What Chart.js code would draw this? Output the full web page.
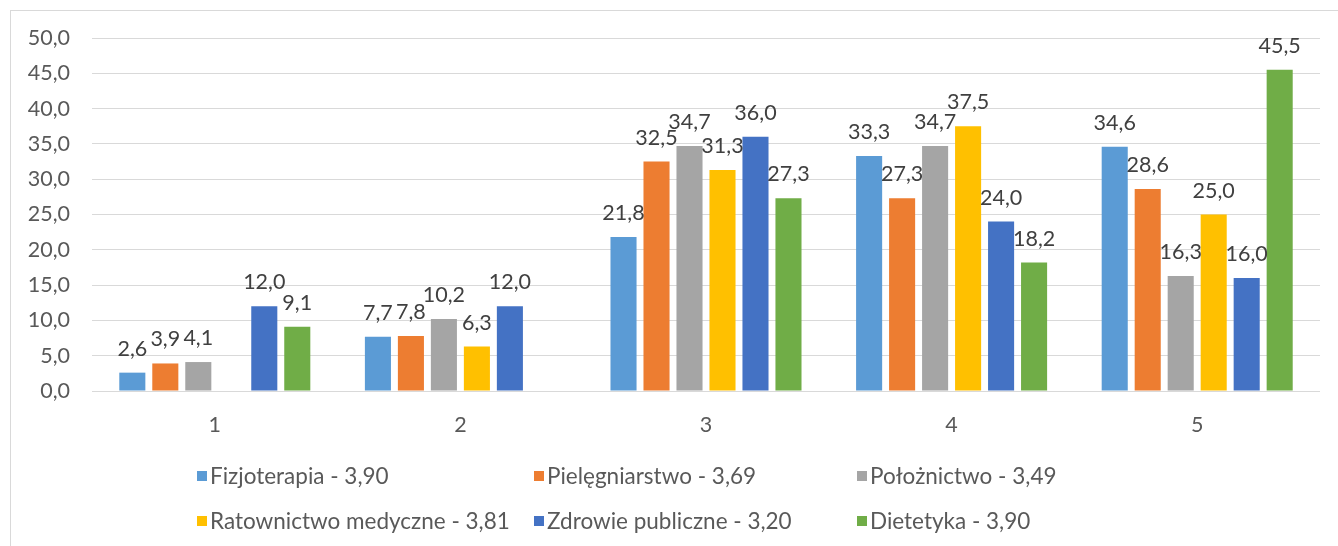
<!DOCTYPE html>
<html lang="pl">
<head>
<meta charset="utf-8">
<title>Oceny wg kierunku</title>
<script src="https://cdn.jsdelivr.net/npm/chart.js@4.4.1/dist/chart.umd.min.js"></script>
<style>
    html, body { margin: 0; padding: 0; background: #fff; }
    body { width: 1338px; height: 546px; position: relative; overflow: hidden; font-family: Lato, "Open Sans", sans-serif; }
    #frame { position: absolute; left: 10px; top: 10px; width: 1340px; height: 560px; border: 1px solid #d9d9d9; box-sizing: border-box; }
    #chartWrap { position: absolute; left: 0; top: 0; width: 1338px; height: 546px; }
    #legend { position: absolute; left: 197px; top: 453px; display: grid; grid-template-columns: 337px 323px auto; grid-auto-rows: 45px; }
    .legend-item { display: flex; align-items: center; font-size: 22.5px; color: #595959; white-space: nowrap; }
    .legend-box { width: 10px; height: 10px; margin-right: 3px; flex: none; }
</style>
</head>
<body>
<div id="frame"></div>
<div id="chartWrap"><canvas id="gradesChart" width="1338" height="546"></canvas></div>
<div id="legend"></div>
<script>
// Data (percent of answers per grade)
const categories = ['1', '2', '3', '4', '5'];
const seriesNames = [
    'Fizjoterapia - 3,90',
    'Pielęgniarstwo - 3,69',
    'Położnictwo - 3,49',
    'Ratownictwo medyczne - 3,81',
    'Zdrowie publiczne - 3,20',
    'Dietetyka - 3,90'
];
const fizjoterapia = [2.6, 7.7, 21.8, 33.3, 34.6];
const pielegniarstwo = [3.9, 7.8, 32.5, 27.3, 28.6];
const poloznictwo = [4.1, 10.2, 34.7, 34.7, 16.3];
const ratownictwo = [null, 6.3, 31.3, 37.5, 25.0];
const zdrowiePubliczne = [12.0, 12.0, 36.0, 24.0, 16.0];
const dietetyka = [9.1, null, 27.3, 18.2, 45.5];
const yTicks = [0, 5, 10, 15, 20, 25, 30, 35, 40, 45, 50];

const seriesValues = [fizjoterapia, pielegniarstwo, poloznictwo, ratownictwo, zdrowiePubliczne, dietetyka];
const seriesColors = ['#5B9BD5', '#ED7D31', '#A5A5A5', '#FFC000', '#4472C4', '#70AD47'];

const FONT = 'Lato, "Open Sans", sans-serif';
const formatPl = (v) => Number(v).toFixed(1).replace('.', ',');

// Draws the value above every bar (Excel style "outside end" labels)
const valueLabels = {
    id: 'valueLabels',
    afterDatasetsDraw(chart) {
        const ctx = chart.ctx;
        ctx.save();
        ctx.font = '21.5px ' + FONT;
        ctx.fillStyle = '#404040';
        ctx.textAlign = 'center';
        ctx.textBaseline = 'alphabetic';
        chart.data.datasets.forEach((ds, i) => {
            const meta = chart.getDatasetMeta(i);
            meta.data.forEach((bar, j) => {
                const v = ds.data[j];
                if (v === null || v === undefined) return;
                ctx.fillText(formatPl(v), bar.x, bar.y - 17);
            });
        });
        ctx.restore();
    }
};

const ctx = document.getElementById('gradesChart').getContext('2d');
const chart = new Chart(ctx, {
    type: 'bar',
    data: {
        labels: categories,
        datasets: seriesNames.map((name, i) => ({
            label: name,
            data: seriesValues[i],
            backgroundColor: seriesColors[i],
            borderWidth: 0,
            categoryPercentage: 0.806,
            barPercentage: 0.79
        }))
    },
    options: {
        responsive: false,
        animation: false,
        layout: { padding: { top: 38, right: 18, left: 0, bottom: 0 } },
        plugins: {
            legend: { display: false },
            tooltip: { enabled: false }
        },
        scales: {
            x: {
                grid: { display: false, drawTicks: false },
                border: { display: false },
                ticks: { color: '#595959', font: { family: FONT, size: 21.5 }, padding: 21 },
                afterFit: (scale) => { scale.height = 155; }
            },
            y: {
                min: 0,
                max: 50,
                afterBuildTicks: (scale) => { scale.ticks = yTicks.map(v => ({ value: v })); },
                grid: { color: '#d9d9d9', lineWidth: 1, drawTicks: false },
                border: { display: false },
                ticks: {
                    color: '#595959',
                    font: { family: FONT, size: 21.5 },
                    padding: 22,
                    callback: (v) => formatPl(v)
                },
                afterFit: (scale) => { scale.width = 92; }
            }
        }
    },
    plugins: [valueLabels]
});

// Legend in three columns like the original
const legendEl = document.getElementById('legend');
seriesNames.forEach((name, i) => {
    const item = document.createElement('div');
    item.className = 'legend-item';
    item.innerHTML = `<span class="legend-box" style="background:${seriesColors[i]}"></span><span>${name}</span>`;
    legendEl.appendChild(item);
});
</script>
</body>
</html>
